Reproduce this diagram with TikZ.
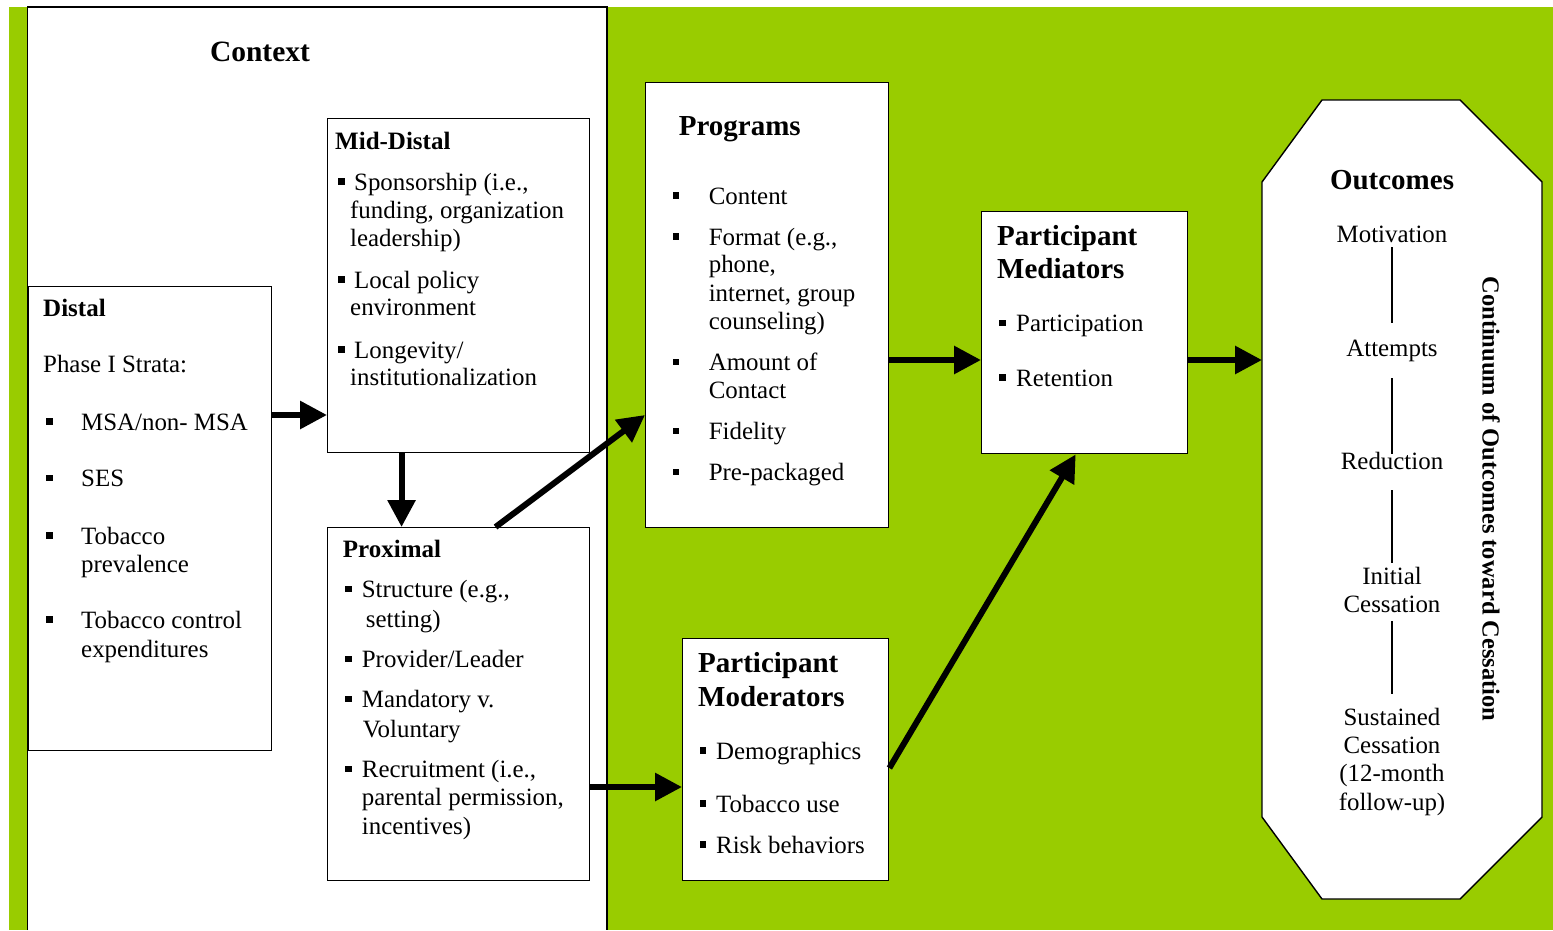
\documentclass[tikz,border=0pt]{standalone}
\usepackage{fontspec}
\setmainfont{Liberation Serif}
\usetikzlibrary{arrows.meta}
\definecolor{bggreen}{RGB}{153,204,0}
\newcommand\txtline[4]{\node[txt] (#1) at (#2,#3) {#4};}
\newcommand\bitem[5]{\node[bul] (#1b) at (#2,{#4-8.5}) {};\node[txt] (#1) at (#3,#4) {#5};}
\tikzset{
  box/.style={draw=black, line width=1.4pt, fill=white, inner sep=0pt, anchor=north west},
  txt/.style={inner sep=0pt, font=\fontsize{24.9}{29}\selectfont, anchor=base west},
  ctxt/.style={inner sep=0pt, font=\fontsize{24.9}{29}\selectfont, anchor=base},
  hd/.style={inner sep=0pt, font=\bfseries\fontsize{25}{29}\selectfont, anchor=base west},
  hdl/.style={inner sep=0pt, font=\bfseries\fontsize{29}{34}\selectfont, anchor=base west},
  bul/.style={fill=black, inner sep=0pt, minimum size=6.3pt},
  arr/.style={line width=6pt, -{Triangle[length=27pt,width=27pt]}},
  thinln/.style={line width=1.2pt},
}
\begin{document}
\begin{tikzpicture}[x=1pt,y=-1pt]
\useasboundingbox (0,0) rectangle (1553,930);
\fill[white] (0,0) rectangle (1553,930);
\fill[bggreen] (9,7) rectangle (1553,930);
% context region
\fill[white] (27.5,7) rectangle (607,930);
\draw[line width=1.4pt] (27.5,930) -- (27.5,7) -- (607,7) -- (607,930);
\node[inner sep=0pt, font=\bfseries\fontsize{29.5}{34}\selectfont, anchor=base] (ctx) at (260,61.7) {Context};

% boxes
\node[box, minimum width=243.5pt, minimum height=464pt] (dist) at (27.5,286) {};
\node[box, minimum width=261.7pt, minimum height=334pt] (mid) at (327,118) {};
\node[box, minimum width=261.7pt, minimum height=353pt] (prox) at (327,527) {};
\node[box, minimum width=243pt, minimum height=445.5pt] (prog) at (645,81.5) {};
\node[box, minimum width=206pt, minimum height=242pt] (med) at (981,211) {};
\node[box, minimum width=206pt, minimum height=242pt] (mod) at (682,638) {};
\draw[line width=1.4pt, fill=white] (1322,100) -- (1460,100) -- (1542,182) -- (1542,817) -- (1460,899) -- (1322,899) -- (1262,817) -- (1262,182) -- cycle;
\coordinate (outw) at (1262,360);

% Distal
\node[hd] (distH) at (43,316) {Distal};
\txtline{distP}{43}{372.7}{Phase I Strata:}
\bitem{d1}{49.5}{81}{430}{MSA/non- MSA}
\bitem{d2}{49.5}{81}{486.7}{SES}
\bitem{d3}{49.5}{81}{544}{Tobacco}
\txtline{d3a}{81}{572}{prevalence}
\bitem{d4}{49.5}{81}{628}{Tobacco control}
\txtline{d4a}{81}{657}{expenditures}

% Mid-Distal
\node[hd] (midH) at (335,149.3) {Mid-Distal};
\bitem{m1}{341.5}{354}{190}{Sponsorship (i.e.,}
\txtline{m1a}{350}{218}{funding, organization}
\txtline{m1b}{350}{246.7}{leadership)}
\bitem{m2}{341.5}{354}{288}{Local policy}
\txtline{m2a}{350}{315.5}{environment}
\bitem{m3}{341.5}{354}{358}{Longevity/}
\txtline{m3a}{350}{385.5}{institutionalization}

% Proximal
\node[hd] (proxH) at (342.7,557.3) {Proximal};
\bitem{p1}{348.5}{361.7}{597.3}{Structure (e.g.,}
\txtline{p1a}{365.7}{627.3}{setting)}
\bitem{p2}{348.5}{361.7}{667.3}{Provider/Leader}
\bitem{p3}{348.5}{361.7}{707.3}{Mandatory v.}
\txtline{p3a}{362.7}{737.3}{Voluntary}
\bitem{p4}{348.5}{361.7}{777.3}{Recruitment (i.e.,}
\txtline{p4a}{361.7}{805.7}{parental permission,}
\txtline{p4b}{361.7}{834}{incentives)}

% Programs
\node[hdl] (progH) at (678.6,135) {Programs};
\bitem{g1}{676}{708.6}{204}{Content}
\bitem{g2}{676}{708.6}{245}{Format (e.g.,}
\txtline{g2a}{708.6}{272.7}{phone,}
\txtline{g2b}{708.6}{301.7}{internet, group}
\txtline{g2c}{708.6}{329.3}{counseling)}
\bitem{g3}{676}{708.6}{370.7}{Amount of}
\txtline{g3a}{708.6}{398.3}{Contact}
\bitem{g4}{676}{708.6}{439.3}{Fidelity}
\bitem{g5}{676}{708.6}{480.7}{Pre-packaged}

% Mediators
\node[hdl] (medH1) at (997,245.7) {Participant};
\node[hdl] (medH2) at (997,278.3) {Mediators};
\bitem{e1}{1002.5}{1016}{331.7}{Participation}
\bitem{e2}{1002.5}{1016}{386}{Retention}

% Moderators
\node[hdl] (modH1) at (698,672) {Participant};
\node[hdl] (modH2) at (698,706) {Moderators};
\bitem{o1}{703}{716}{759}{Demographics}
\bitem{o2}{703}{716}{812}{Tobacco use}
\bitem{o3}{703}{716}{853}{Risk behaviors}

% Outcomes
\node[inner sep=0pt, font=\bfseries\fontsize{29}{34}\selectfont, anchor=base] (outH) at (1392,189.5) {Outcomes};
\node[ctxt] (mot) at (1392,242) {Motivation};
\node[ctxt] (att) at (1392,356.5) {Attempts};
\node[ctxt] (red) at (1392,469.5) {Reduction};
\node[ctxt] (ini) at (1392,584) {Initial};
\node[ctxt] (ces1) at (1392,612) {Cessation};
\node[ctxt] (sus) at (1392,725.5) {Sustained};
\node[ctxt] (ces2) at (1392,753.5) {Cessation};
\node[ctxt] (mon) at (1392,781.5) {(12-month};
\node[ctxt] (fol) at (1392,810.5) {follow-up)};
\draw[thinln] ([yshift=-5pt]mot.base) -- ([yshift=33.5pt]att.base);
\draw[thinln] ([yshift=-21.5pt]att.base) -- ([yshift=16pt]red.base);
\draw[thinln] ([yshift=-20.5pt]red.base) -- ([yshift=21pt]ini.base);
\draw[thinln] ([yshift=-9pt]ces1.base) -- ([yshift=31.5pt]sus.base);
\node[inner sep=0pt, font=\bfseries\fontsize{24.5}{29}\selectfont, rotate=-90] (cont) at (1491,499) {Continuum of Outcomes toward Cessation};

% arrows
\coordinate (L415) at (0,415);
\coordinate (L360) at (0,360);
\coordinate (L787) at (0,787);
\coordinate (L768) at (0,768);
\draw[arr] (dist.east |- L415) -- (mid.west |- L415);
\draw[arr] ([xshift=-57pt]mid.south) -- ([xshift=-57pt]prox.north);
\draw[arr] ([xshift=37pt]prox.north) -- (prog.west |- L415);
\draw[arr] (prog.east |- L360) -- (med.west |- L360);
\draw[arr] (med.east |- L360) -- (outw);
\draw[arr] (prox.east |- L787) -- (mod.west |- L787);
\draw[arr] (mod.east |- L768) -- ([xshift=-9pt]med.south);
\end{tikzpicture}
\end{document}
